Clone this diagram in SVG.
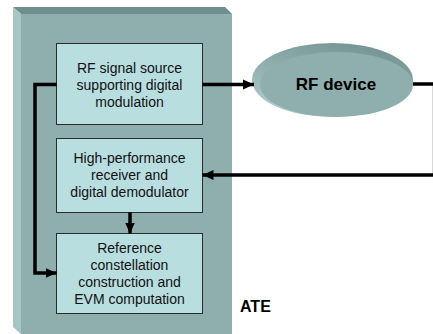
<svg xmlns="http://www.w3.org/2000/svg" width="433" height="334" viewBox="0 0 433 334">
<defs>
<style>
.box{fill:#b9dee0;stroke:#2b2b2b;stroke-width:1}
.t{font-family:"Liberation Sans",Arial,sans-serif;font-size:14px;fill:#111;text-anchor:middle}
.b{font-family:"Liberation Sans",Arial,sans-serif;font-weight:bold;fill:#000}
.c{fill:none;stroke:#000;stroke-width:3.5}
</style>
<marker id="ah" markerUnits="userSpaceOnUse" markerWidth="12" markerHeight="12" viewBox="0 0 12 12" refX="11" refY="6" orient="auto">
<path d="M0,1 L11,6 L0,11 Z" fill="#000"/>
</marker>
<linearGradient id="rim" x1="0" y1="1" x2="0.6" y2="0">
<stop offset="0" stop-color="#b8d3d3"/>
<stop offset="0.5" stop-color="#94b2b2"/>
<stop offset="1" stop-color="#789696"/>
</linearGradient>
</defs>
<rect width="433" height="334" fill="#fff"/>
<g id="ate">
<polygon points="13,7 225,7 232,14 21,14" fill="#6f8e8e"/>
<polygon points="13,7 21,14 21,334 13,327" fill="#a6c5c5"/>
<rect x="21" y="14" width="211" height="320" fill="#8faeae"/>
<text class="b" x="240" y="312" font-size="16">ATE</text>
</g>
<g id="src">
<rect class="box" x="56.5" y="43.5" width="146" height="81"/>
<text class="t" x="129.5" y="73">RF signal source</text>
<text class="t" x="129.5" y="90">supporting digital</text>
<text class="t" x="129.5" y="107">modulation</text>
</g>
<g id="rx">
<rect class="box" x="56.5" y="138.5" width="146" height="74"/>
<text class="t" x="129.5" y="163">High-performance</text>
<text class="t" x="129.5" y="180">receiver and</text>
<text class="t" x="129.5" y="197">digital demodulator</text>
</g>
<g id="evm">
<rect class="box" x="56.5" y="233.5" width="146" height="80"/>
<text class="t" x="129.5" y="253">Reference</text>
<text class="t" x="129.5" y="270">constellation</text>
<text class="t" x="129.5" y="287">construction and</text>
<text class="t" x="129.5" y="304">EVM computation</text>
</g>
<g id="dut">
<ellipse cx="332.5" cy="80" rx="80.5" ry="37" fill="url(#rim)"/>
<ellipse cx="336.5" cy="84.5" rx="76.5" ry="32.5" fill="#8faeae"/>
<text class="b" x="336" y="90" font-size="17" text-anchor="middle">RF device</text>
</g>
<g id="connectors">
<path class="c" d="M202.5,84.5 H254" marker-end="url(#ah)"/>
<path class="c" d="M56.5,84.5 H35 V273 H56.5" marker-end="url(#ah)"/>
<path class="c" d="M130,212.5 V233.5" marker-end="url(#ah)"/>
<path class="c" d="M413,84 H434.6 V175 H202.5" marker-end="url(#ah)"/>
</g>
</svg>
